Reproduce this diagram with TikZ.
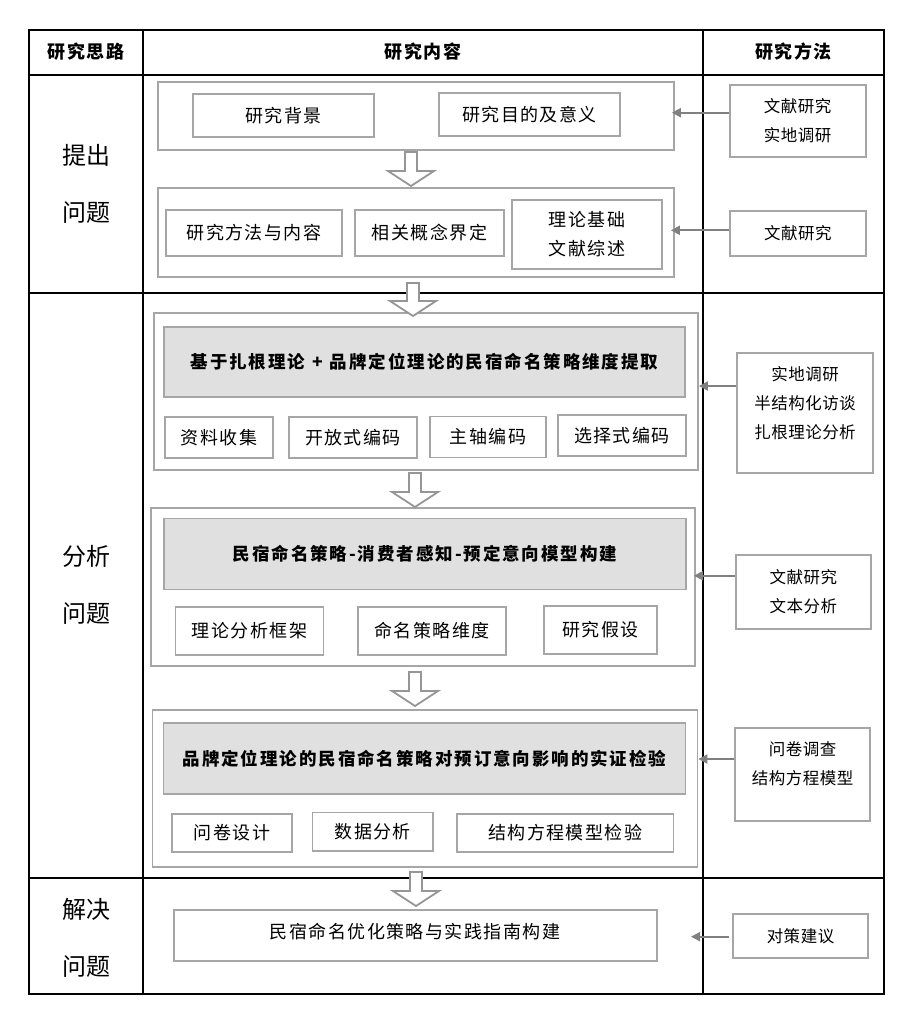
\documentclass[tikz,border=0pt]{standalone}
\usepackage{fontspec}
\setmainfont{Noto Sans CJK SC}
\usetikzlibrary{arrows.meta}
\definecolor{boxgray}{HTML}{A6A6A6}
\definecolor{fillgray}{HTML}{E0E0E0}
\definecolor{arrgray}{HTML}{969696}
\definecolor{linegray}{HTML}{808080}
\newcommand\blockdown[3]{%
  \draw[hollowarr] ({#1-6},#2) -- ({#1-6},{#3-15}) -- ({#1-23},{#3-15}) -- (#1,#3)
    -- ({#1+23},{#3-15}) -- ({#1+6},{#3-15}) -- ({#1+6},#2) -- cycle;}
\begin{document}
\begin{tikzpicture}[x=1pt,y=-1pt,
  tline/.style={line width=1.3pt,black},
  gbox/.style={draw=boxgray,line width=1.8pt,inner sep=0pt},
  sbox/.style={draw=boxgray,line width=1.8pt,inner sep=0pt,align=center,
    font=\fontsize{18}{29}\selectfont\addfontfeatures{LetterSpace=8}},
  hbox/.style={draw=boxgray,fill=fillgray,line width=1.8pt,inner sep=0pt,
    font=\fontsize{17.5}{22}\selectfont\bfseries\addfontfeatures{LetterSpace=11}},
  mbox/.style={draw=boxgray,line width=1.8pt,inner sep=0pt,align=center,
    font=\fontsize{16.5}{29}\selectfont\addfontfeatures{LetterSpace=3}},
  mtext/.style={inner sep=0pt,align=center,
    font=\fontsize{16.5}{29}\selectfont\addfontfeatures{LetterSpace=3}},
  ftext/.style={inner sep=0pt,
    font=\fontsize{18}{22}\selectfont\addfontfeatures{LetterSpace=8}},
  hdr/.style={inner sep=0pt,font=\fontsize{18}{22}\selectfont\bfseries\addfontfeatures{LetterSpace=8}},
  lbl/.style={inner sep=0pt,align=center,font=\fontsize{24}{57}\selectfont},
  hollowarr/.style={draw=arrgray,line width=1.8pt,fill=white,line join=miter},
  harr/.style={draw=linegray,line width=2pt,-{Triangle[length=9pt,width=9pt]}}
]
\fill[white] (0,0) rectangle (913,1022);
\useasboundingbox (0,0) rectangle (913,1022);

% table
\draw[tline] (29,30) rectangle (884,994);
\draw[tline] (143,30) -- (143,994);
\draw[tline] (703,30) -- (703,994);
\draw[tline] (29,75) -- (884,75);
\draw[tline] (29,293) -- (884,293);
\draw[tline] (29,878) -- (884,878);

% headers
\node[hdr] (h1) at (86,52) {研究思路};
\node[hdr] (h2) at (423,52) {研究内容};
\node[hdr] (h3) at (793.5,52) {研究方法};

% left labels
\node[lbl] (l1) at (86,183.5) {提出\\问题};
\node[lbl] (l2) at (86,585) {分析\\问题};
\node[lbl] (l3) at (86,937.5) {解决\\问题};

% group A
\node[gbox,minimum width=516,minimum height=68] (gA) at (416,116) {};
\node[sbox,minimum width=181,minimum height=43] (a1) at (283.5,115.5) {研究背景};
\node[sbox,minimum width=181,minimum height=43] (a2) at (529.5,114.5) {研究目的及意义};

% group B
\node[gbox,minimum width=516,minimum height=89] (gB) at (416,232.5) {};
\node[sbox,minimum width=176,minimum height=46] (b1) at (254,233) {研究方法与内容};
\node[sbox,minimum width=149,minimum height=46] (b2) at (429.5,233) {相关概念界定};
\node[sbox,minimum width=150,minimum height=69] (b3) at (587,234.5) {理论基础\\文献综述};

% group C
\node[gbox,minimum width=544,minimum height=157] (gC) at (426,391.5) {};
\node[hbox,minimum width=521,minimum height=70] (c0) at (424.5,362) {基于扎根理论\hspace{7pt}+\hspace{7pt}品牌定位理论的民宿命名策略维度提取};
\node[sbox,minimum width=108,minimum height=41] (c1) at (219,437.5) {资料收集};
\node[sbox,minimum width=128,minimum height=41] (c2) at (353,437.5) {开放式编码};
\node[sbox,minimum width=116,minimum height=41] (c3) at (488,437) {主轴编码};
\node[sbox,minimum width=128,minimum height=41] (c4) at (622,435.5) {选择式编码};

% group D
\node[gbox,minimum width=544,minimum height=158] (gD) at (423,587) {};
\node[hbox,minimum width=522,minimum height=71] (d0) at (425,554) {民宿命名策略-消费者感知-预定意向模型构建};
\node[sbox,minimum width=148,minimum height=48] (d1) at (249.5,631) {理论分析框架};
\node[sbox,minimum width=148,minimum height=48] (d2) at (432,631) {命名策略维度};
\node[sbox,minimum width=113,minimum height=48] (d3) at (600.5,630) {研究假设};

% group E
\node[gbox,minimum width=545,minimum height=157] (gE) at (425,788.3) {};
\node[hbox,minimum width=522,minimum height=71] (e0) at (424.5,758.3) {品牌定位理论的民宿命名策略对预订意向影响的实证检验};
\node[sbox,minimum width=120.5,minimum height=38.5] (e1) at (232,833) {问卷设计};
\node[sbox,minimum width=120.5,minimum height=38.5] (e2) at (372.8,831.8) {数据分析};
\node[sbox,minimum width=216.6,minimum height=38.5] (e3) at (565.2,833) {结构方程模型检验};

% box F
\node[gbox,minimum width=483,minimum height=51] (fF) at (415.2,935.5) {};
\node[ftext] (fFt) at (415,931.7) {民宿命名优化策略与实践指南构建};

% method boxes
\node[mbox,minimum width=136,minimum height=72.3] (m1) at (797.7,120.9) {文献研究\\实地调研};
\node[mbox,minimum width=136,minimum height=45.3] (m2) at (797.9,233.4) {文献研究};
\node[gbox,minimum width=136.6,minimum height=120] (m3) at (805,412.7) {};
\node[mtext] (m3t) at (805,403) {实地调研\\半结构化访谈\\扎根理论分析};
\node[mbox,minimum width=135.3,minimum height=73.7] (m4) at (803.4,591.9) {文献研究\\文本分析};
\node[gbox,minimum width=135.3,minimum height=93] (m5) at (802.7,774.2) {};
\node[mtext] (m5t) at (802.7,763.6) {问卷调查\\结构方程模型};
\node[mbox,minimum width=135.6,minimum height=44.3] (m6) at (800.5,935.9) {对策建议};

% hollow down arrows
\blockdown{411}{152}{186}
\blockdown{413}{283}{316}
\blockdown{415}{473}{507}
\blockdown{415}{672}{706}
\blockdown{416}{872}{906}

% horizontal arrows
\coordinate (f6) at (691,936.7);
\draw[harr,shorten >=-3pt] (m1.west |- 0,112.7) -- (gA.east |- 0,112.7);
\draw[harr,shorten >=-4pt] (m2.west |- 0,230.3) -- (gB.east |- 0,230.3);
\draw[harr] (m3.west |- 0,386) -- (gC.east |- 0,386);
\draw[harr,shorten >=-2pt] (m4.west |- 0,575.7) -- (gD.east |- 0,575.7);
\draw[harr] (m5.west |- 0,759) -- (gE.east |- 0,759);
\draw[harr] ([xshift=-3pt]m6.west |- 0,936.7) -- (f6);
\end{tikzpicture}
\end{document}
